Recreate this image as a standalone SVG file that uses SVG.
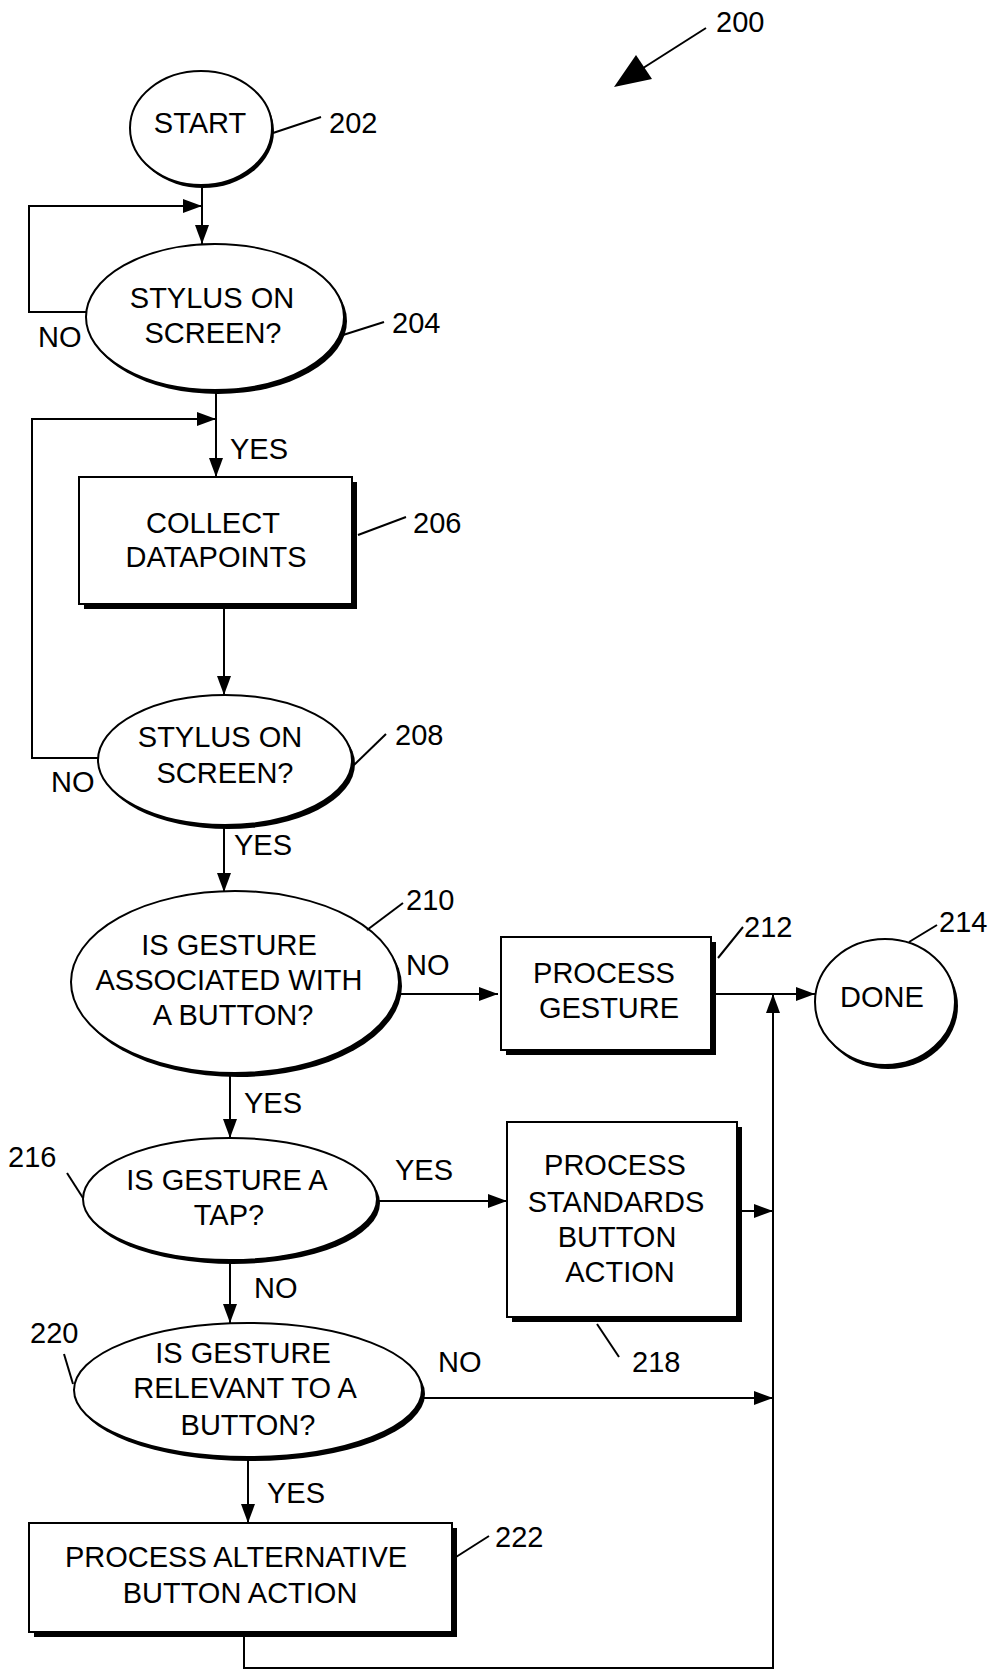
<svg xmlns="http://www.w3.org/2000/svg" width="990" height="1671" viewBox="0 0 990 1671">
<style>
text{font-family:"Liberation Sans",Arial,sans-serif;font-size:29px;fill:#000}
.c{text-anchor:middle}
.sh{fill:#000;stroke:none}
.nd{fill:#fff;stroke:#000;stroke-width:2}
.ld{fill:none;stroke:#000;stroke-width:2}
.cn{fill:none;stroke:#000;stroke-width:2}
</style>
<defs>
<marker id="ah" viewBox="0 0 19 14" refX="19" refY="7" markerWidth="19" markerHeight="14" markerUnits="userSpaceOnUse" orient="auto">
<path d="M0,0 L19,7 L0,14 z" fill="#000"/>
</marker>
</defs>
<rect width="990" height="1671" fill="#fff"/>

<g id="ref200">
<line x1="706" y1="28" x2="640" y2="70" class="ld"/>
<polygon points="614,87 636,55 652,79" fill="#000"/>
<text x="716" y="32">200</text>
</g>

<g id="connectors">
<path class="cn" d="M202,185 V244" marker-end="url(#ah)"/>
<path class="cn" d="M88,312 H29 V206 H202" marker-end="url(#ah)"/>
<path class="cn" d="M216,390 V477" marker-end="url(#ah)"/>
<path class="cn" d="M98,758 H32 V419 H216" marker-end="url(#ah)"/>
<path class="cn" d="M224,604 V695" marker-end="url(#ah)"/>
<path class="cn" d="M224,826 V892" marker-end="url(#ah)"/>
<path class="cn" d="M398,994 H498" marker-end="url(#ah)"/>
<path class="cn" d="M712,994 H815" marker-end="url(#ah)"/>
<path class="cn" d="M230,1070 V1138" marker-end="url(#ah)"/>
<path class="cn" d="M378,1201 H507" marker-end="url(#ah)"/>
<path class="cn" d="M742,1211 H773" marker-end="url(#ah)"/>
<path class="cn" d="M230,1260 V1323" marker-end="url(#ah)"/>
<path class="cn" d="M422,1398 H773" marker-end="url(#ah)"/>
<path class="cn" d="M248,1457 V1523" marker-end="url(#ah)"/>
<path class="cn" d="M244,1632 V1668 H773 V994" marker-end="url(#ah)"/>
<text x="38" y="347">NO</text>
<text x="230" y="459">YES</text>
<text x="51" y="792">NO</text>
<text x="234" y="855">YES</text>
<text x="406" y="975">NO</text>
<text x="244" y="1113">YES</text>
<text x="395" y="1180">YES</text>
<text x="254" y="1298">NO</text>
<text x="438" y="1372">NO</text>
<text x="267" y="1503">YES</text>
</g>

<g id="n202">
<ellipse cx="203" cy="131" rx="71" ry="57" class="sh"/>
<ellipse cx="201" cy="128" rx="71" ry="57" class="nd"/>
<text x="200" y="133" class="c">START</text>
<line x1="273" y1="133" x2="321" y2="117" class="ld"/>
<text x="329" y="133">202</text>
</g>

<g id="n204">
<ellipse cx="218" cy="321" rx="129" ry="73" class="sh"/>
<ellipse cx="215" cy="317" rx="129" ry="73" class="nd"/>
<text x="212" y="308" class="c">STYLUS ON</text>
<text x="213" y="343" class="c">SCREEN?</text>
<line x1="343" y1="335" x2="384" y2="322" class="ld"/>
<text x="392" y="333">204</text>
</g>

<g id="n206">
<rect x="84" y="482" width="273" height="127" class="sh"/>
<rect x="79" y="477" width="273" height="127" class="nd"/>
<text x="213" y="533" class="c">COLLECT</text>
<text x="216" y="567" class="c">DATAPOINTS</text>
<line x1="358" y1="535" x2="406" y2="517" class="ld"/>
<text x="413" y="533">206</text>
</g>

<g id="n208">
<ellipse cx="228" cy="764" rx="127" ry="65" class="sh"/>
<ellipse cx="225" cy="760" rx="127" ry="65" class="nd"/>
<text x="220" y="747" class="c">STYLUS ON</text>
<text x="225" y="783" class="c">SCREEN?</text>
<line x1="354" y1="765" x2="386" y2="734" class="ld"/>
<text x="395" y="745">208</text>
</g>

<g id="n210">
<ellipse cx="238" cy="986" rx="164" ry="91" class="sh"/>
<ellipse cx="235" cy="982" rx="164" ry="91" class="nd"/>
<text x="229" y="955" class="c">IS GESTURE</text>
<text x="229" y="990" class="c">ASSOCIATED WITH</text>
<text x="233" y="1025" class="c">A BUTTON?</text>
<line x1="367" y1="930" x2="403" y2="903" class="ld"/>
<text x="406" y="910">210</text>
</g>

<g id="n212">
<rect x="506" y="942" width="210" height="113" class="sh"/>
<rect x="501" y="937" width="210" height="113" class="nd"/>
<text x="604" y="983" class="c">PROCESS</text>
<text x="609" y="1018" class="c">GESTURE</text>
<line x1="718" y1="958" x2="743" y2="927" class="ld"/>
<text x="744" y="937">212</text>
</g>

<g id="n214">
<ellipse cx="888" cy="1006" rx="70" ry="63" class="sh"/>
<ellipse cx="885" cy="1002" rx="70" ry="63" class="nd"/>
<text x="882" y="1007" class="c">DONE</text>
<line x1="909" y1="942" x2="937" y2="925" class="ld"/>
<text x="939" y="932">214</text>
</g>

<g id="n216">
<ellipse cx="233" cy="1203" rx="147" ry="61" class="sh"/>
<ellipse cx="230" cy="1199" rx="147" ry="61" class="nd"/>
<text x="227" y="1190" class="c">IS GESTURE A</text>
<text x="229" y="1225" class="c">TAP?</text>
<line x1="67" y1="1173" x2="83" y2="1198" class="ld"/>
<text x="8" y="1167">216</text>
</g>

<g id="n218">
<rect x="512" y="1127" width="230" height="195" class="sh"/>
<rect x="507" y="1122" width="230" height="195" class="nd"/>
<text x="615" y="1175" class="c">PROCESS</text>
<text x="616" y="1212" class="c">STANDARDS</text>
<text x="617" y="1247" class="c">BUTTON</text>
<text x="620" y="1282" class="c">ACTION</text>
<line x1="597" y1="1324" x2="619" y2="1357" class="ld"/>
<text x="632" y="1372">218</text>
</g>

<g id="n220">
<ellipse cx="251" cy="1394" rx="174" ry="67" class="sh"/>
<ellipse cx="248" cy="1390" rx="174" ry="67" class="nd"/>
<text x="243" y="1363" class="c">IS GESTURE</text>
<text x="245" y="1398" class="c">RELEVANT TO A</text>
<text x="248" y="1435" class="c">BUTTON?</text>
<line x1="64" y1="1354" x2="73" y2="1384" class="ld"/>
<text x="30" y="1343">220</text>
</g>

<g id="n222">
<rect x="34" y="1528" width="423" height="109" class="sh"/>
<rect x="29" y="1523" width="423" height="109" class="nd"/>
<text x="236" y="1567" class="c">PROCESS ALTERNATIVE</text>
<text x="240" y="1603" class="c">BUTTON ACTION</text>
<line x1="456" y1="1557" x2="489" y2="1536" class="ld"/>
<text x="495" y="1547">222</text>
</g>
</svg>
